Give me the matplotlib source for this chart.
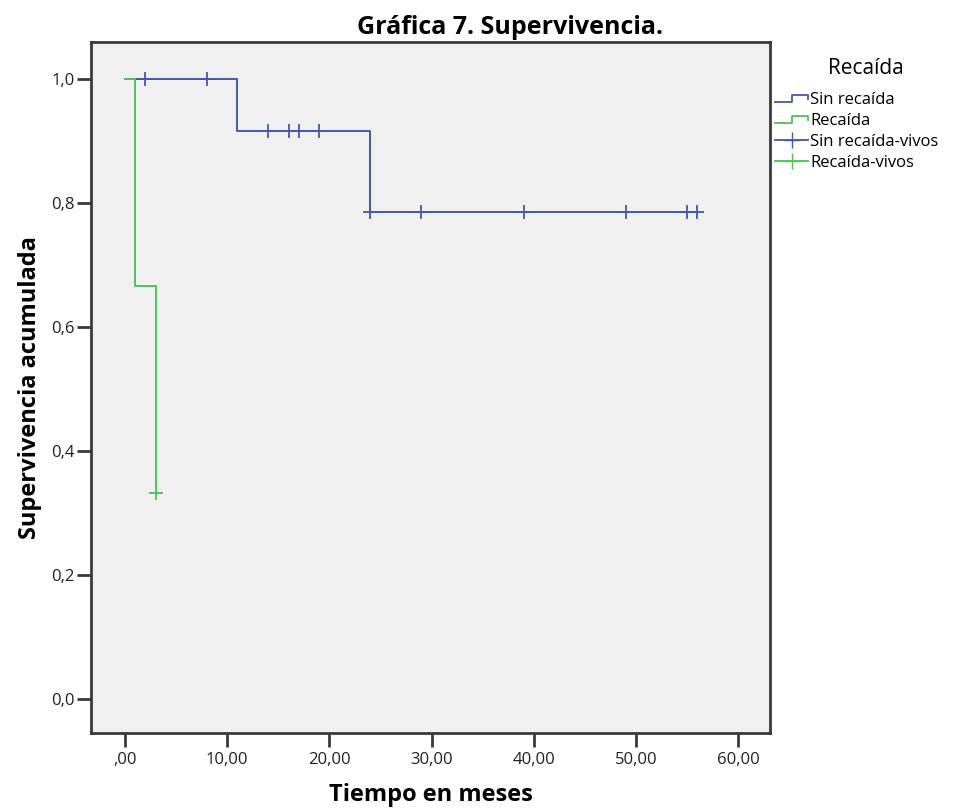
import matplotlib.pyplot as plt
from matplotlib.legend_handler import HandlerBase
from matplotlib.lines import Line2D

# datos: curva Sin recaida
sin_t = [0, 11, 24, 56]
sin_s = [1.0, 0.917, 0.786, 0.786]
sin_cens_t = [2, 8, 14, 16, 17, 19, 24, 29, 39, 49, 55, 56]
sin_cens_s = [1.0, 1.0, 0.917, 0.917, 0.917, 0.917, 0.786, 0.786, 0.786, 0.786, 0.786, 0.786]

# datos: curva Recaida
rec_t = [0, 1, 3]
rec_s = [1.0, 0.667, 0.333]
rec_cens_t = [3]
rec_cens_s = [0.333]

x_ticks = [0, 10, 20, 30, 40, 50, 60]
x_labels = [',00', '10,00', '20,00', '30,00', '40,00', '50,00', '60,00']
y_ticks = [0.0, 0.2, 0.4, 0.6, 0.8, 1.0]
y_labels = ['0,0', '0,2', '0,4', '0,6', '0,8', '1,0']

blue = '#4358b0'
green = '#4cc456'
frame = '#3a3a3a'

plt.rcParams['font.family'] = ['Open Sans', 'DejaVu Sans']


class StepHandler(HandlerBase):
    # icono escalonado para la leyenda
    def create_artists(self, legend, orig, xd, yd, w, h, fontsize, trans):
        xs = [xd, xd + w * 0.5, xd + w * 0.5, xd + w, xd + w]
        ys = [yd + h * 0.2, yd + h * 0.2, yd + h * 0.8, yd + h * 0.8, yd + h * 0.45]
        ln = Line2D(xs, ys, color=orig.get_color(), lw=1.3, transform=trans)
        return [ln]


fig = plt.figure(figsize=(9.63, 8.08), dpi=100)
ax = fig.add_axes([0.0945, 0.0928, 0.705, 0.855])
ax.set_facecolor('#f0f0f0')

# curvas escalonadas
l1, = ax.step(sin_t, sin_s, where='post', color=blue, lw=1.4)
ax.plot(sin_cens_t, sin_cens_s, '+', color=blue, ms=10, mew=1.3, ls='none')
l2, = ax.step(rec_t, rec_s, where='post', color=green, lw=1.4)
ax.plot(rec_cens_t, rec_cens_s, '+', color=green, ms=10, mew=1.3, ls='none')

ax.set_xlim(-3.33, 63.1)
ax.set_ylim(-0.0548, 1.0597)
ax.set_xticks(x_ticks)
ax.set_xticklabels(x_labels)
ax.set_yticks(y_ticks)
ax.set_yticklabels(y_labels)
ax.tick_params(axis='both', direction='out', length=10, width=2, color=frame,
               labelsize=12, labelcolor='#222222')
ax.tick_params(axis='y', pad=2)
ax.tick_params(axis='x', pad=4)
for sp in ax.spines.values():
    sp.set_color(frame)
    sp.set_linewidth(2)

ax.set_xlabel('Tiempo en meses', fontsize=17, fontweight='bold', va='center')
ax.xaxis.set_label_coords(0.5, -0.0897)
ax.set_ylabel('Supervivencia acumulada', fontsize=17, fontweight='bold', va='center')
ax.yaxis.set_label_coords(-0.0898, 0.5)
fig.text(510 / 963, 1 - 27 / 808, 'Gráfica 7. Supervivencia.', ha='center', va='center',
         fontsize=18, fontweight='bold')

# leyenda
fig.text(866 / 963, 1 - 68 / 808, 'Recaída', ha='center', va='center', fontsize=15)
h3 = Line2D([], [], color=blue, marker='+', ms=12, lw=1.3)
h4 = Line2D([], [], color=green, marker='+', ms=12, lw=1.3)
leg = fig.legend([l1, l2, h3, h4],
                 ['Sin recaída', 'Recaída', 'Sin recaída-vivos', 'Recaída-vivos'],
                 handler_map={l1: StepHandler(), l2: StepHandler()},
                 loc='upper left', bbox_to_anchor=(775 / 963, 1 - 92 / 808),
                 borderaxespad=0, borderpad=0,
                 frameon=False, fontsize=12,
                 handlelength=2.0, handletextpad=0.1, labelspacing=0.3)

fig.savefig('out.png', dpi=100)
